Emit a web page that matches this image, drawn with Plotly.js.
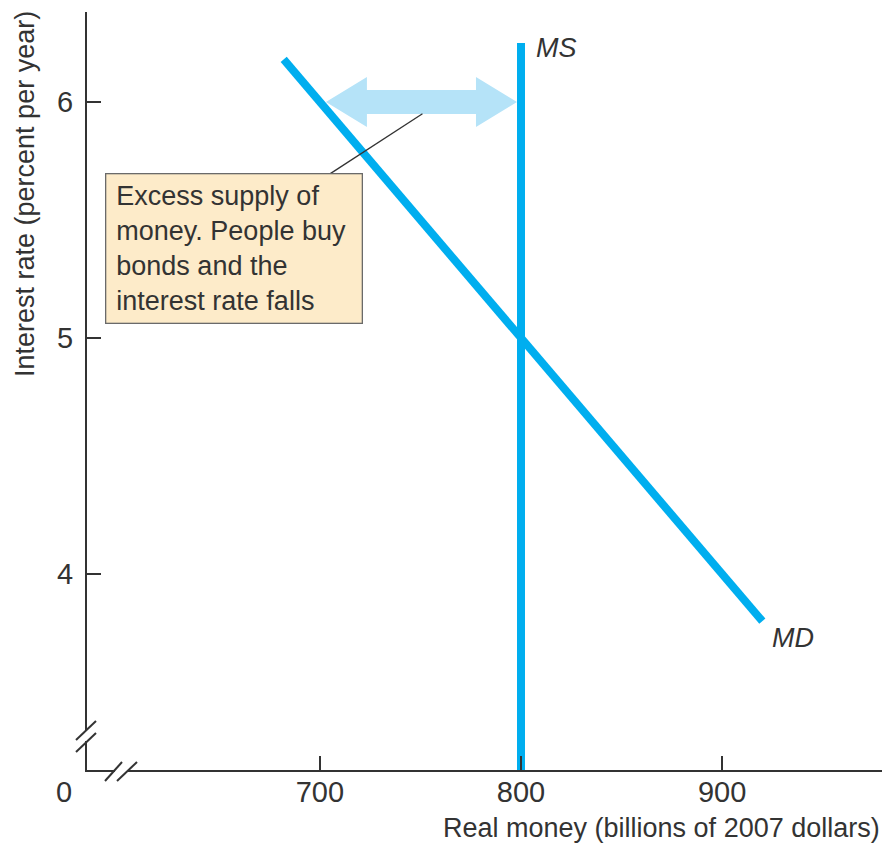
<!DOCTYPE html>
<html>
<head>
<meta charset="utf-8">
<script src="https://cdn.plot.ly/plotly-3.0.1.min.js"></script>
<style>html,body{margin:0;padding:0;background:#fff;}#chart{width:886px;height:843px;}</style>
</head>
<body>
<div id="chart"></div>
<script>
// ---- data ----
const mdMoney = [682, 920];
const mdRate = [6.18, 3.80];
const msMoney = [800, 800];
const msRate = [3.17, 6.25];
const arrowMoney = [703, 798];   // excess supply arrow, from MD to MS
const arrowRate = 6;
const leaderMoney = [751, 705];
const leaderRate = [5.95, 5.695];
const xTickVals = [700, 800, 900];
const xTickText = ['700', '800', '900'];
const yTickVals = [4, 5, 6];
const yTickText = ['4', '5', '6'];
const boxLines = ['Excess supply of', 'money. People buy', 'bonds and the', 'interest rate falls'];
const xTitle = 'Real money (billions of 2007 dollars)';
const yTitle = 'Interest rate (percent per year)';

// ---- style ----
const FONT = '"Liberation Sans", Arial, sans-serif';
const TXT = '#333333';
const BLUE = '#00aeef';
const LIGHT = '#b5e3f8';
const xRange = [584.2, 979.5];
const yRange = [3.1695, 6.381];
const plotW = 795, plotH = 758;
const pxX = plotW / (xRange[1] - xRange[0]);
const pxY = plotH / (yRange[1] - yRange[0]);

// arrow polygon (sizes in px converted to data units)
const headLen = 41 / pxX, headHalf = 25 / pxY, shaftHalf = 12 / pxY;
const a0 = arrowMoney[0], a1 = arrowMoney[1], r = arrowRate;
const arrowPath = 'M' + a0 + ',' + r +
  ' L' + (a0 + headLen) + ',' + (r + headHalf) +
  ' L' + (a0 + headLen) + ',' + (r + shaftHalf) +
  ' L' + (a1 - headLen) + ',' + (r + shaftHalf) +
  ' L' + (a1 - headLen) + ',' + (r + headHalf) +
  ' L' + a1 + ',' + r +
  ' L' + (a1 - headLen) + ',' + (r - headHalf) +
  ' L' + (a1 - headLen) + ',' + (r - shaftHalf) +
  ' L' + (a0 + headLen) + ',' + (r - shaftHalf) +
  ' L' + (a0 + headLen) + ',' + (r - headHalf) + ' Z';

const px2paperX = p => (p - 87) / plotW;
const px2paperY = p => (770 - p) / plotH;

const traces = [
  {x: mdMoney, y: mdRate, mode: 'lines', line: {color: BLUE, width: 8}, hoverinfo: 'skip', cliponaxis: false},
  {x: msMoney, y: msRate, mode: 'lines', line: {color: BLUE, width: 8}, hoverinfo: 'skip'}
];

const brk = {color: TXT, width: 2};
const shapes = [
  {type: 'path', path: arrowPath, xref: 'x', yref: 'y', fillcolor: LIGHT, line: {width: 0}, layer: 'below'},
  {type: 'line', xref: 'x', yref: 'y', x0: leaderMoney[0], y0: leaderRate[0], x1: leaderMoney[1], y1: leaderRate[1], line: {color: '#333', width: 1.3}, layer: 'above'},
  // axis breaks
  {type: 'rect', xref: 'paper', yref: 'paper', x0: px2paperX(84), x1: px2paperX(90), y0: px2paperY(741), y1: px2paperY(730), fillcolor: '#fff', line: {width: 0}},
  {type: 'line', xref: 'paper', yref: 'paper', x0: px2paperX(76), y0: px2paperY(740), x1: px2paperX(96), y1: px2paperY(721), line: brk},
  {type: 'line', xref: 'paper', yref: 'paper', x0: px2paperX(76), y0: px2paperY(752), x1: px2paperX(96), y1: px2paperY(733), line: brk},
  {type: 'rect', xref: 'paper', yref: 'paper', x0: px2paperX(115), x1: px2paperX(128), y0: px2paperY(773), y1: px2paperY(767), fillcolor: '#fff', line: {width: 0}},
  {type: 'line', xref: 'paper', yref: 'paper', x0: px2paperX(105), y0: px2paperY(781), x1: px2paperX(122), y1: px2paperY(762), line: brk},
  {type: 'line', xref: 'paper', yref: 'paper', x0: px2paperX(117), y0: px2paperY(781), x1: px2paperX(137), y1: px2paperY(762), line: brk}
];

const annotations = [
  {xref: 'paper', yref: 'paper', x: px2paperX(105), y: px2paperY(173), xanchor: 'left', yanchor: 'top',
   text: boxLines.join('<br>'), showarrow: false, align: 'left', valign: 'middle',
   width: 235, height: 128, bgcolor: '#fdebc9', bordercolor: '#6a6a6a', borderwidth: 1.3, borderpad: 10,
   font: {family: FONT, size: 27, color: TXT}},
  {xref: 'x', yref: 'y', x: msMoney[0], y: msRate[1], xanchor: 'left', yanchor: 'middle', xshift: 13, yshift: -5,
   text: '<i>MS</i>', showarrow: false, font: {family: FONT, size: 27, color: TXT}},
  {xref: 'x', yref: 'y', x: mdMoney[1], y: mdRate[1], xanchor: 'left', yanchor: 'middle', xshift: 8, yshift: -17,
   text: '<i>MD</i>', showarrow: false, font: {family: FONT, size: 27, color: TXT}},
  {xref: 'paper', yref: 'paper', x: px2paperX(64), y: px2paperY(792), xanchor: 'center', yanchor: 'middle',
   text: '0', showarrow: false, font: {family: FONT, size: 29, color: TXT}},
  {xref: 'paper', yref: 'paper', x: 1, y: px2paperY(828), xanchor: 'right', yanchor: 'middle',
   text: xTitle, showarrow: false, font: {family: FONT, size: 27, color: TXT}},
  {xref: 'paper', yref: 'paper', x: px2paperX(25), y: px2paperY(194), xanchor: 'center', yanchor: 'middle', textangle: -90,
   text: yTitle, showarrow: false, font: {family: FONT, size: 27, color: TXT}}
];

const layout = {
  width: 886, height: 843,
  margin: {l: 87, r: 4, t: 12, b: 73},
  paper_bgcolor: '#fff', plot_bgcolor: '#fff',
  showlegend: false,
  xaxis: {range: xRange, showgrid: false, zeroline: false, showline: true, linecolor: '#333', linewidth: 2,
          ticks: 'inside', ticklen: 14, tickwidth: 1.5, tickcolor: '#333',
          tickvals: xTickVals, ticktext: xTickText, tickfont: {family: FONT, size: 29, color: TXT},
          ticklabelstandoff: -5, fixedrange: true},
  yaxis: {range: yRange, showgrid: false, zeroline: false, showline: true, linecolor: '#333', linewidth: 2,
          ticks: 'inside', ticklen: 14, tickwidth: 1.5, tickcolor: '#333',
          tickvals: yTickVals, ticktext: yTickText, tickfont: {family: FONT, size: 29, color: TXT},
          ticklabelstandoff: 6, fixedrange: true},
  shapes: shapes,
  annotations: annotations
};

Plotly.newPlot('chart', traces, layout, {displayModeBar: false, staticPlot: true});
</script>
</body>
</html>
